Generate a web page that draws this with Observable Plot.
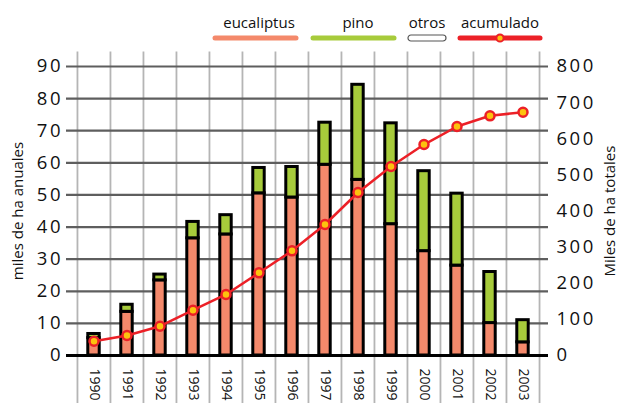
<!DOCTYPE html>
<html><head><meta charset="utf-8">
<script src="https://cdn.jsdelivr.net/npm/d3@7"></script>
<script src="https://cdn.jsdelivr.net/npm/@observablehq/plot@0.6"></script>
<style>
body{margin:0;background:#fff;font-family:"Open Sans",sans-serif;}
#legend{position:relative;width:619px;height:48px;}
.lt{position:absolute;top:12px;font-size:15px;line-height:20px;color:#111;white-space:nowrap;transform:translateX(-50%);}
.sw{position:absolute;top:34px;overflow:visible;}
#chart svg{overflow:visible;}
g[aria-label="y-axis tick label"] text{letter-spacing:2.5px;}
g[aria-label="y-axis label"] text{font-size:15px;letter-spacing:0;}
</style></head><body>
<div id="legend"></div>
<div id="chart"></div>
<script>
const years = ["1990","1991","1992","1993","1994","1995","1996","1997","1998","1999","2000","2001","2002","2003"];
const eucaliptus = [5.4,13.6,23.4,36.5,37.7,50.5,49.2,59.4,54.7,40.9,32.5,28.0,10.1,4.1];
const pino       = [1.3, 2.2, 1.8, 5.1, 6.0, 7.9, 9.5,13.1,29.6,31.4,24.9,22.4,15.9,6.9];
const acumulado  = [39.6,55.4,81.1,125.4,168.9,228.9,289.8,362.6,451.2,523.2,584.0,633.9,663.5,673.5];
const leftTicks = [0,10,20,30,40,50,60,70,80,90];
const rightTicks = [0,100,200,300,400,500,600,700,800];
const series = ["eucaliptus","pino","otros","acumulado"];
const colors = {eucaliptus:"#f4896b", pino:"#a7cb3b", otros:"#ffffff", acumulado:"#ec2027"};

// legend
const legendPos = {eucaliptus:[212,299,259], pino:[310,397,358], otros:[407,447,427], acumulado:[457,543,500]};
const leg = document.getElementById("legend");
series.forEach(s => {
  const [a,b,c] = legendPos[s];
  const t = document.createElement("div");
  t.className = "lt"; t.style.left = c + "px"; t.textContent = s;
  leg.appendChild(t);
  const w = b - a;
  let inner;
  if (s === "otros") {
    inner = `<rect x="1" y="1" width="${w-2}" height="6" rx="3" fill="#fff" stroke="#555" stroke-width="1.2"/>`;
  } else if (s === "acumulado") {
    inner = `<line x1="3" y1="4" x2="${w-3}" y2="4" stroke="${colors[s]}" stroke-width="5" stroke-linecap="round"/><circle cx="${w/2}" cy="4" r="3.6" fill="#fdc20e" stroke="${colors[s]}" stroke-width="2"/>`;
  } else {
    inner = `<line x1="3" y1="4" x2="${w-3}" y2="4" stroke="${colors[s]}" stroke-width="5" stroke-linecap="round"/>`;
  }
  leg.insertAdjacentHTML("beforeend", `<svg class="sw" style="left:${a}px" width="${w}" height="8">${inner}</svg>`);
});

const rows = years.flatMap((y,i) => [
  {year:y, tipo:"eucaliptus", v:eucaliptus[i]},
  {year:y, tipo:"pino", v:pino[i]}
]);
const k = 90/800;
const acc = years.map((y,i) => ({year:y, v:acumulado[i]*k}));
const bw = (619-76-80)/years.length;
const inset = (bw - 11.5)/2;

const plot = Plot.plot({
  width:619, height:355,
  marginLeft:76, marginRight:80, marginTop:18, marginBottom:48,
  style:{fontFamily:"'Open Sans',sans-serif", color:"#111", background:"#fff"},
  x:{domain:years, padding:0, axis:null},
  y:{domain:[0,90], axis:null},
  color:{domain:["eucaliptus","pino"], range:[colors.eucaliptus, colors.pino]},
  marks:[
    Plot.ruleX(years, {x:d=>d, dx:-bw/2, y1:-16, y2:94.5, stroke:"#b5b5b5", strokeWidth:1.8}),
    Plot.ruleX([years[years.length-1]], {x:d=>d, dx:bw/2, y1:-16, y2:94.5, stroke:"#b5b5b5", strokeWidth:1.8}),
    Plot.ruleY(leftTicks.slice(1), {stroke:"#5e5e5e", strokeWidth:2.2, insetLeft:-10, insetRight:-9}),
    Plot.barY(rows, {x:"year", y:"v", fill:"tipo", stroke:"#000", strokeWidth:3, insetLeft:inset, insetRight:inset}),
    Plot.ruleY([0], {stroke:"#000", strokeWidth:3, insetLeft:-10, insetRight:-9}),
    Plot.line(acc, {x:"year", y:"v", stroke:colors.acumulado, strokeWidth:2.5}),
    Plot.dot(acc, {x:"year", y:"v", r:4.5, fill:"#fdc20e", stroke:colors.acumulado, strokeWidth:2.5}),
    Plot.axisY({anchor:"left", ticks:leftTicks, tickSize:0, tickPadding:13.5, fontSize:18.5,
      label:"miles de ha anuales", labelAnchor:"center", labelArrow:"none", labelOffset:64}),
    Plot.axisY({anchor:"right", ticks:rightTicks.map(v=>v*k), tickFormat:d=>String(Math.round(d/k)), tickSize:0, tickPadding:17, fontSize:18.5,
      label:"Miles de ha totales", labelAnchor:"center", labelArrow:"none", labelOffset:75}),
    Plot.axisX({anchor:"bottom", tickRotate:90, tickSize:0, tickPadding:13, fontSize:14, label:null})
  ]
});
document.getElementById("chart").appendChild(plot);
</script>
</body></html>
